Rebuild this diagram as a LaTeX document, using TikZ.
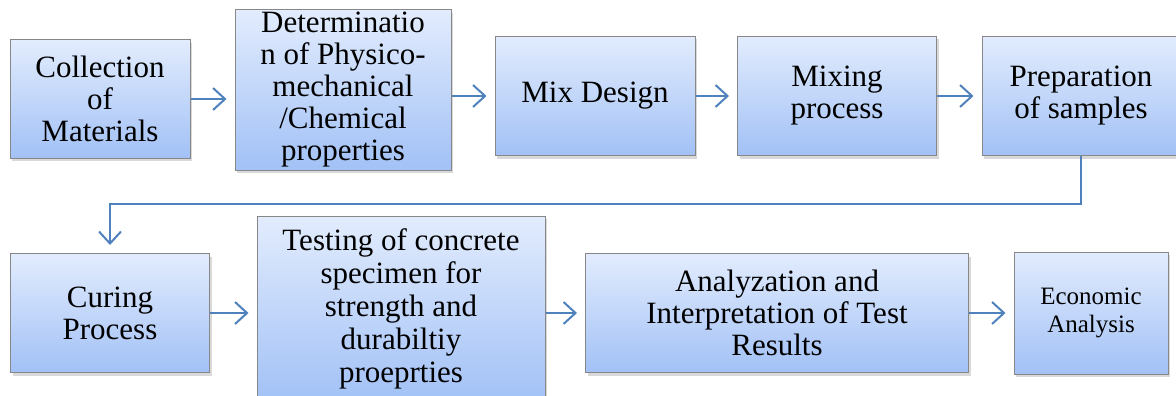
\documentclass[tikz,border=0pt]{standalone}
\usepackage{fontspec}
\setmainfont{Liberation Serif}
\usetikzlibrary{arrows.meta,shadows}
\definecolor{boxtop}{RGB}{226,236,253}
\definecolor{boxbot}{RGB}{162,193,246}
\definecolor{boxedge}{RGB}{135,135,135}
\definecolor{linkblue}{RGB}{79,129,189}
\begin{document}
\begin{tikzpicture}[x=1pt,y=-1pt,
  box/.style={draw=boxedge,line width=1pt,top color=boxtop,bottom color=boxbot,
    align=center,inner sep=0pt,font=\fontsize{31}{32}\selectfont,
    drop shadow={opacity=0.3,shadow xshift=2pt,shadow yshift=-3pt}},
  link/.style={draw=linkblue,line width=2pt,-{Straight Barb[length=12pt,width=22pt]},shorten >=8pt}]
\useasboundingbox (0,0) rectangle (1176,396);
\clip (0,0) rectangle (1176,396);
\node[box,minimum width=180pt,minimum height=118pt] (col) at (100,99) {Collection\\of\\Materials};
\node[box,minimum width=216pt,minimum height=160pt] (det) at (343,90) {Determinatio\\n of Physico-\\mechanical\\/Chemical\\properties};
\node[box,minimum width=200pt,minimum height=119pt] (mix) at (595,96) {Mix Design};
\node[box,minimum width=199pt,minimum height=119pt] (mixp) at (837,96) {Mixing\\process};
\node[box,minimum width=198pt,minimum height=119pt] (prep) at (1081,96) {Preparation\\of samples};
\node[box,minimum width=199pt,minimum height=119pt] (cur) at (110,313) {Curing\\Process};
\node[box,minimum width=288pt,minimum height=186pt,font=\fontsize{31}{33}\selectfont] (test) at (401,309) {Testing of concrete\\specimen for\\strength and\\durabiltiy\\proeprties};
\node[box,minimum width=383pt,minimum height=119pt] (ana) at (777,313) {Analyzation and\\Interpretation of Test\\Results};
\node[box,minimum width=154pt,minimum height=122pt,font=\fontsize{25}{28}\selectfont] (eco) at (1091,313) {Economic\\Analysis};
\coordinate (turn) at (0,204);
\draw[link] (col) -- (col -| det.west);
\draw[link] (det.east |- mix) -- (mix);
\draw[link] (mix) -- (mixp);
\draw[link] (mixp) -- (prep);
\draw[link] (prep.south) |- (cur.north |- turn) -- (cur.north);
\draw[link] (cur) -- (cur -| test.west);
\draw[link] (test.east |- ana) -- (ana);
\draw[link] (ana) -- (eco);
\end{tikzpicture}
\end{document}
